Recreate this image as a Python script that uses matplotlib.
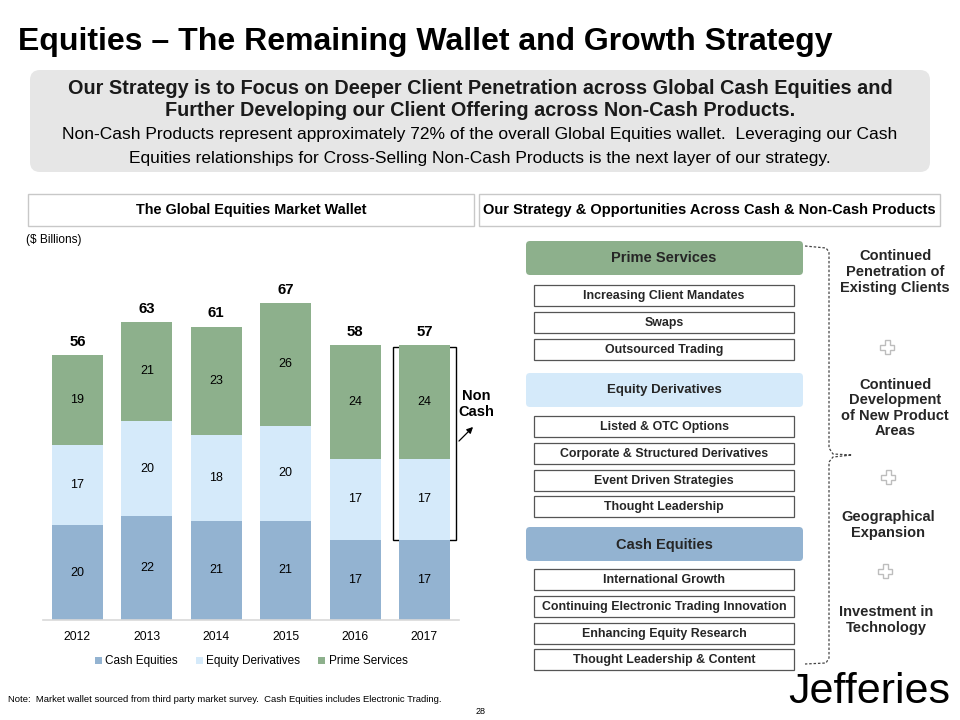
import matplotlib
matplotlib.use("Agg")
import matplotlib.pyplot as plt
import numpy as np
from matplotlib.patches import FancyBboxPatch, Rectangle, Polygon
from matplotlib.lines import Line2D

plt.rcParams['font.family'] = ['Liberation Sans', 'DejaVu Sans']

# chart data ($ billions)
years = ["2012", "2013", "2014", "2015", "2016", "2017"]
cash_eq = [20, 22, 21, 21, 17, 17]
equity_deriv = [17, 20, 18, 20, 17, 17]
prime_serv = [19, 21, 23, 26, 24, 24]
totals = [56, 63, 61, 67, 58, 57]

series_names = ["Cash Equities", "Equity Derivatives", "Prime Services"]
c_cash = "#93B3D1"
c_deriv = "#D5EAFA"
c_prime = "#8DB08C"

# strategy panel text
prime_items = ["Increasing Client Mandates", "Swaps", "Outsourced Trading"]
deriv_items = ["Listed & OTC Options", "Corporate & Structured Derivatives",
               "Event Driven Strategies", "Thought Leadership"]
cash_items = ["International Growth", "Continuing Electronic Trading Innovation",
              "Enhancing Equity Research", "Thought Leadership & Content"]
goals = ["Continued\nPenetration of\nExisting Clients",
         "Continued\nDevelopment\nof New Product\nAreas",
         "Geographical\nExpansion",
         "Investment in\nTechnology"]

W, H = 960, 720
fig = plt.figure(figsize=(9.6, 7.2), dpi=100)

# ---- bar chart ----
ax = fig.add_axes([42.8 / W, (H - 620) / H, 416.4 / W, 355 / H])
x = np.arange(len(years))
bw = 0.735
b1 = ax.bar(x, cash_eq, bw, color=c_cash, zorder=2)
b2 = ax.bar(x, equity_deriv, bw, bottom=cash_eq, color=c_deriv, zorder=2)
bot3 = np.array(cash_eq) + np.array(equity_deriv)
b3 = ax.bar(x, prime_serv, bw, bottom=bot3, color=c_prime, zorder=2)

for i in range(len(years)):
    ax.text(x[i], cash_eq[i] / 2, str(cash_eq[i]), ha="center", va="center", fontsize=9)
    ax.text(x[i], cash_eq[i] + equity_deriv[i] / 2, str(equity_deriv[i]),
            ha="center", va="center", fontsize=9)
    ax.text(x[i], bot3[i] + prime_serv[i] / 2, str(prime_serv[i]),
            ha="center", va="center", fontsize=9)
    ax.text(x[i], bot3[i] + prime_serv[i] + 1.3, str(totals[i]), ha="center",
            va="bottom", fontsize=10.8, fontweight="bold")

ax.set_xlim(-0.5, 5.5)
ax.set_ylim(0, 75)
ax.set_xticks(x)
ax.set_xticklabels(years, fontsize=8.7)
ax.tick_params(axis="x", length=0, pad=8)
ax.set_yticks([])
for s in ["top", "left", "right"]:
    ax.spines[s].set_visible(False)
ax.spines["bottom"].set_color("#D9D9D9")
ax.spines["bottom"].set_linewidth(1.2)
ax.set_facecolor("none")

ax.legend([b1, b2, b3], series_names, loc="upper center", bbox_to_anchor=(0.5, -0.07),
          ncol=3, frameon=False, fontsize=8.5, handlelength=0.6, handleheight=0.6,
          handletextpad=0.3, columnspacing=1.5)

# ---- slide overlay ----
ov = fig.add_axes([0, 0, 1, 1], zorder=-1)
ov.set_xlim(0, W)
ov.set_ylim(H, 0)
ov.axis("off")

ov.text(18, 42, "Equities \u2013 The Remaining Wallet and Growth Strategy",
        fontsize=23, fontweight="bold", va="center", ha="left")

ov.add_patch(FancyBboxPatch((30, 70), 900, 102, boxstyle="round,pad=0,rounding_size=10",
                            fc="#E6E6E6", ec="none"))
ov.text(480, 88, "Our Strategy is to Focus on Deeper Client Penetration across Global Cash Equities and",
        fontsize=14.3, fontweight="bold", ha="center", va="center", color="#1a1a1a")
ov.text(480, 111, "Further Developing our Client Offering across Non-Cash Products.",
        fontsize=14.3, fontweight="bold", ha="center", va="center", color="#1a1a1a")
ov.text(480, 135, "Non-Cash Products represent approximately 72% of the overall Global Equities wallet.  Leveraging our Cash",
        fontsize=12.5, ha="center", va="center")
ov.text(480, 158, "Equities relationships for Cross-Selling Non-Cash Products is the next layer of our strategy.",
        fontsize=12.5, ha="center", va="center")

# section headers
ov.add_patch(Rectangle((28, 194), 446, 32, fc="white", ec="#C8C8C8", lw=1))
ov.text(251, 210, "The Global Equities Market Wallet", fontsize=10.4, fontweight="bold",
        ha="center", va="center")
ov.add_patch(Rectangle((479, 194), 461, 32, fc="white", ec="#C8C8C8", lw=1))
ov.text(709, 210, "Our Strategy & Opportunities Across Cash & Non-Cash Products",
        fontsize=10.5, fontweight="bold", ha="center", va="center")
ov.text(26, 240, "($ Billions)", fontsize=8.6, ha="left", va="center")

# Non Cash highlight
ov.add_patch(Rectangle((393, 347), 63, 193, fc="none", ec="black", lw=1.0, zorder=5))
ov.text(476, 404, "Non\nCash", fontsize=10.5, fontweight="bold", ha="center", va="center",
        linespacing=1.1)
ov.annotate("", xy=(475, 425), xytext=(457, 443),
            arrowprops=dict(arrowstyle="-|>", color="black", lw=0.9, mutation_scale=9))

# strategy boxes
def header_box(y, label, color, fs):
    ov.add_patch(FancyBboxPatch((526, y), 277, 34, boxstyle="round,pad=0,rounding_size=4",
                                fc=color, ec="none"))
    ov.text(664, y + 17.5, label, fontsize=fs, fontweight="bold", ha="center", va="center",
            color="#262626")

def item_boxes(y0, items, step=26.8):
    for k, it in enumerate(items):
        yy = y0 + k * step
        ov.add_patch(Rectangle((534, yy), 260, 21, fc="white", ec="#555555", lw=0.9))
        ov.text(664, yy + 11, it, fontsize=8.9, fontweight="bold", ha="center", va="center",
                color="#262626")

header_box(241, "Prime Services", c_prime, 10.5)
item_boxes(285, prime_items)
header_box(373, "Equity Derivatives", c_deriv, 9.5)
item_boxes(416, deriv_items)
header_box(527, "Cash Equities", c_cash, 10.5)
item_boxes(569, cash_items)

# dashed brace
bx = [805, 826, 829, 829, 833, 852, 833, 829, 829, 826, 805]
by = [246, 248, 252, 448, 454, 455, 457, 462, 658, 663, 664]
ov.add_line(Line2D(bx, by, color="#444444", lw=0.9, ls=(0, (2, 1.5))))

goal_y = [272, 408, 525, 620]
goal_x = [895, 895, 888, 886]
for gx, gy, g in zip(goal_x, goal_y, goals):
    ov.text(gx, gy, g, fontsize=10.5, fontweight="bold", ha="center", va="center",
            color="#262626", linespacing=1.15)

# plus signs
def plus(cx, cy, s=7, t=2.5):
    pts = [(cx - t, cy - s), (cx + t, cy - s), (cx + t, cy - t), (cx + s, cy - t),
           (cx + s, cy + t), (cx + t, cy + t), (cx + t, cy + s), (cx - t, cy + s),
           (cx - t, cy + t), (cx - s, cy + t), (cx - s, cy - t), (cx - t, cy - t)]
    ov.add_patch(Polygon(pts, closed=True, fc="white", ec="#BDBDBD", lw=1))

for cx, cy in [(887, 347), (888, 477), (885, 571)]:
    plus(cx, cy)

# footer
ov.text(8, 700, "Note:  Market wallet sourced from third party market survey.  Cash Equities includes Electronic Trading.",
        fontsize=6.8, ha="left", va="center")
ov.text(481, 711, "28", fontsize=6.5, ha="center", va="center")
ov.text(950, 692, "Jefferies", fontsize=31, ha="right", va="center", color="black")

fig.savefig("out.png", dpi=100)
